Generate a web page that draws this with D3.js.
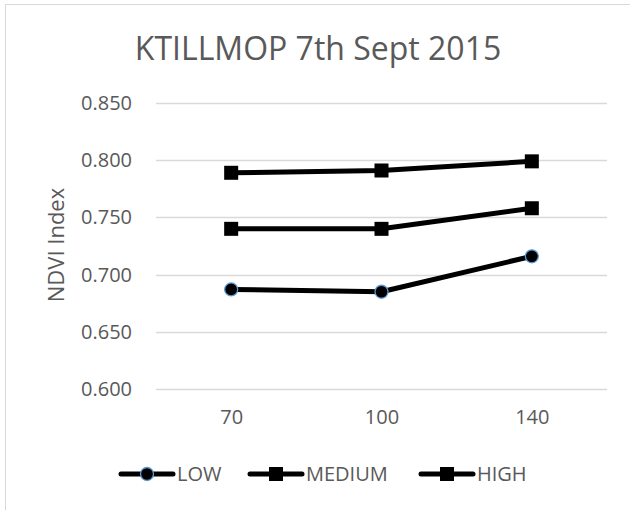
<!DOCTYPE html>
<html>
<head>
<meta charset="utf-8">
<script src="https://cdn.jsdelivr.net/npm/d3@7"></script>
<style>
  body { margin: 0; background: #fff; }
  text { font-family: "Open Sans", sans-serif; fill: #595959; }
</style>
</head>
<body>
<svg id="chart"></svg>
<script>
const w = 630, h = 510;

const rates = ["70", "100", "140"];
const seriesNames = ["LOW", "MEDIUM", "HIGH"];
const lowValues = [0.687, 0.685, 0.716];
const mediumValues = [0.740, 0.740, 0.758];
const highValues = [0.789, 0.791, 0.799];
const yTicks = [0.600, 0.650, 0.700, 0.750, 0.800, 0.850];

const series = [
  { name: seriesNames[0], values: lowValues, marker: "circle" },
  { name: seriesNames[1], values: mediumValues, marker: "square" },
  { name: seriesNames[2], values: highValues, marker: "square" }
];

const svg = d3.select("#chart")
  .attr("width", w)
  .attr("height", h);

// chart frame
svg.append("rect")
  .attr("x", 5.5).attr("y", 4.5)
  .attr("width", 640).attr("height", 520)
  .style("fill", "none")
  .style("stroke", "#d9d9d9");

const x = d3.scalePoint()
  .domain(rates)
  .range([156, 607])
  .padding(0.5);

const y = d3.scaleLinear()
  .domain([0.6, 0.85])
  .range([389, 103]);

// gridlines
svg.append("g")
  .selectAll("line")
  .data(yTicks)
  .enter()
  .append("line")
    .attr("x1", 156).attr("x2", 607)
    .attr("y1", d => Math.round(y(d)) + 0.5)
    .attr("y2", d => Math.round(y(d)) + 0.5)
    .style("stroke", "#d9d9d9")
    .style("stroke-width", 1.3);

// y axis labels
const yAxis = svg.append("g")
  .attr("transform", "translate(156,0)")
  .call(d3.axisLeft(y).tickValues(yTicks).tickFormat(d3.format(".3f")).tickSize(0).tickPadding(24));
yAxis.select(".domain").remove();
yAxis.selectAll("text")
  .style("font-size", "20px")
  .style("font-family", "'Open Sans', sans-serif")
  .attr("fill", "#595959");

// x axis labels
const xAxis = svg.append("g")
  .attr("transform", "translate(0,389)")
  .call(d3.axisBottom(x).tickSize(0).tickPadding(21));
xAxis.select(".domain").remove();
xAxis.selectAll("text")
  .style("font-size", "20px")
  .style("font-family", "'Open Sans', sans-serif")
  .attr("fill", "#595959");

// title
svg.append("text")
  .attr("x", 318).attr("y", 60)
  .attr("text-anchor", "middle")
  .style("font-size", "32px")
  .text("KTILLMOP 7th Sept 2015");

// y axis title
svg.append("text")
  .attr("transform", "translate(64,245) rotate(-90)")
  .attr("text-anchor", "middle")
  .style("font-size", "22px")
  .text("NDVI Index");

const line = d3.line()
  .x((d, i) => x(rates[i]))
  .y(d => y(d));

function drawMarker(g, type, cx, cy) {
  if (type === "circle") {
    g.append("circle")
      .attr("cx", cx).attr("cy", cy).attr("r", 6.5)
      .style("fill", "#000")
      .style("stroke", "#5b9bd5")
      .style("stroke-width", 1.3);
  } else {
    g.append("rect")
      .attr("x", cx - 7).attr("y", cy - 7)
      .attr("width", 14).attr("height", 14)
      .style("fill", "#000");
  }
}

// series
series.forEach(s => {
  const g = svg.append("g");
  g.append("path")
    .attr("d", line(s.values))
    .style("fill", "none")
    .style("stroke", "#000")
    .style("stroke-width", 5)
    .style("stroke-linejoin", "round");
  s.values.forEach((v, i) => drawMarker(g, s.marker, x(rates[i]), y(v)));
});

// legend
const legendX = [121, 250, 421];
const legend = svg.append("g");
series.forEach((s, i) => {
  const lx = legendX[i], ly = 474;
  legend.append("line")
    .attr("x1", lx).attr("x2", lx + 52)
    .attr("y1", ly).attr("y2", ly)
    .style("stroke", "#000")
    .style("stroke-width", 5)
    .style("stroke-linecap", "round");
  drawMarker(legend, s.marker, lx + 26, ly);
  legend.append("text")
    .attr("x", lx + 56).attr("y", ly)
    .attr("dy", "0.35em")
    .style("font-size", "20px")
    .text(s.name);
});
</script>
</body>
</html>
